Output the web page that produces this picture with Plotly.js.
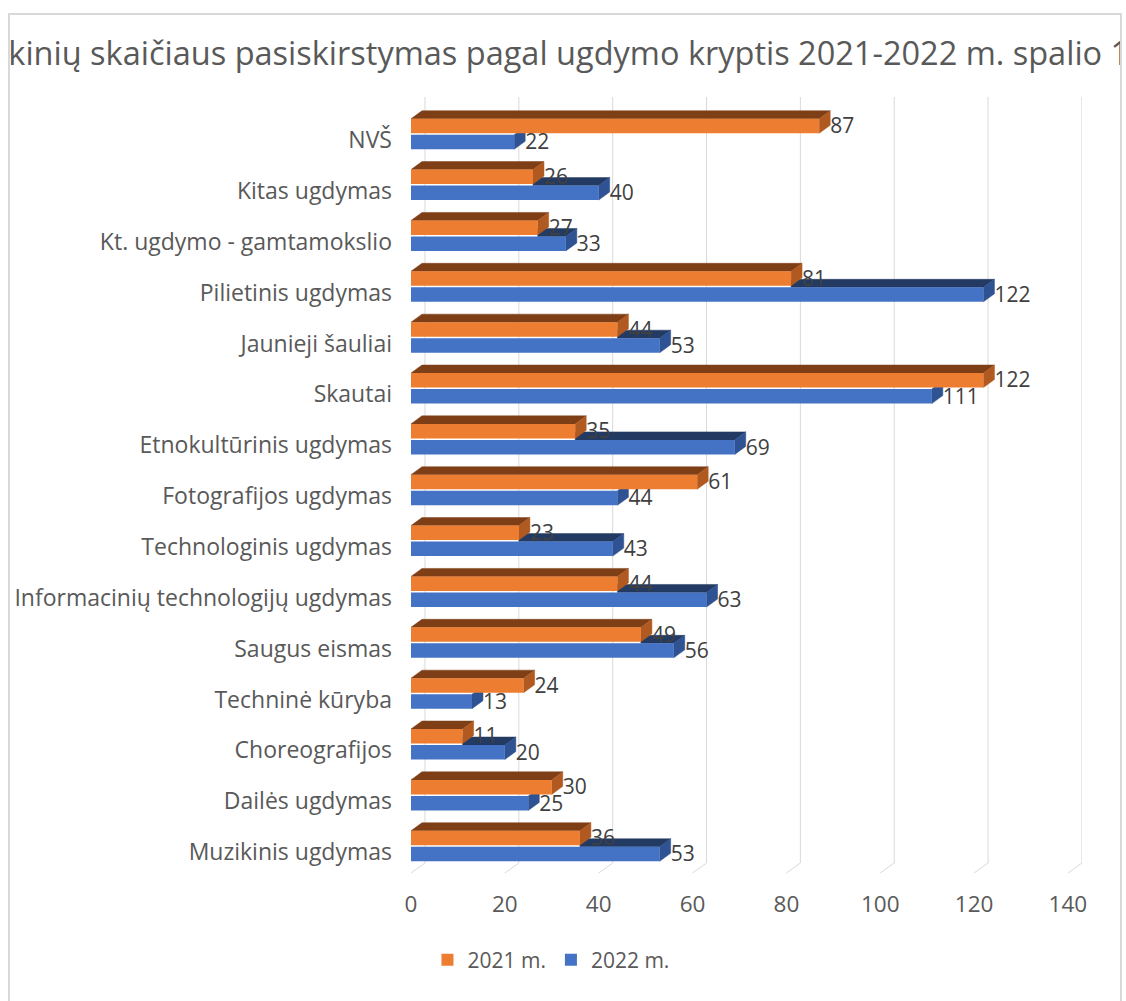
<!DOCTYPE html>
<html><head><meta charset="utf-8">
<script src="https://cdn.plot.ly/plotly-3.0.1.min.js"></script>
<style>
html,body{margin:0;padding:0;background:#fff;width:1126px;height:1001px;overflow:hidden;}
#frame{position:absolute;left:8px;top:13px;width:1110px;height:988px;border:2px solid #d9d9d9;border-bottom:none;overflow:hidden;background:#fff;}
#chart{width:1110px;height:986px;}
</style></head><body>
<div id="frame"><div id="chart"></div></div>
<script>
// ---- data ----
const chartTitle = "Mokinių skaičiaus pasiskirstymas pagal ugdymo kryptis 2021-2022 m. spalio 1 d.";
const categories = ["NVŠ","Kitas ugdymas","Kt. ugdymo - gamtamokslio","Pilietinis ugdymas","Jaunieji šauliai","Skautai","Etnokultūrinis ugdymas","Fotografijos ugdymas","Technologinis ugdymas","Informacinių technologijų ugdymas","Saugus eismas","Techninė kūryba","Choreografijos","Dailės ugdymas","Muzikinis ugdymas"];
const values2021 = [87,26,27,81,44,122,35,61,23,44,49,24,11,30,36];
const values2022 = [22,40,33,122,53,111,69,44,43,63,56,13,20,25,53];
const seriesNames = ["2021 m.","2022 m."];
const xTicks = [0,20,40,60,80,100,120,140];

// ---- style / geometry ----
const DX = 2.34, DY = 0.1575;          // 3D depth in axis units
const GOFF = 2.98;                      // back-wall gridline shift
const O_OFF = -0.30, B_OFF = 0.015, BW = 0.285;
const FONT = "Open Sans, Noto Sans, sans-serif";
const TXT = "#595959";
const col = {
  oFront:"#ED7D31", oTop:"#7E3F17", oSide:"#B05A21",
  bFront:"#4472C4", bTop:"#233A63", bSide:"#2F5292"
};

function faces(vals, off, other, clipBehind){
  const top = {x:[],y:[]}, side = {x:[],y:[]};
  vals.forEach((v,i)=>{
    const a = i + off, b = i + off + BW;
    if(!clipBehind){
      top.x.push(0, v, v+DX, DX, 0, null);
      top.y.push(a, a, a-DY, a-DY, a, null);
    } else if (v > other[i]) {
      const s = other[i];
      top.x.push(s, v, v+DX, s, s, null);
      top.y.push(a, a, a-DY, a-DY, a, null);
    }
    side.x.push(v, v+DX, v+DX, v, v, null);
    side.y.push(a, a-DY, b-DY, b, a, null);
  });
  return {top, side};
}
const fo = faces(values2021, O_OFF, values2022, false);
const fb = faces(values2022, B_OFF, values2021, true);
function poly(p, color){
  return {type:"scatter", mode:"lines", x:p.x, y:p.y, fill:"toself", fillcolor:color,
    line:{width:0.5, color:color}, connectgaps:false, hoverinfo:"skip", showlegend:false, xaxis:"x", yaxis:"y"};
}
const idx = categories.map((_,i)=>i);
const traces = [
  poly(fb.top, col.bTop), poly(fb.side, col.bSide),
  poly(fo.top, col.oTop), poly(fo.side, col.oSide),
  {type:"bar", orientation:"h", name:seriesNames[0], x:values2021, y:idx, width:BW, offset:O_OFF,
   marker:{color:col.oFront, line:{width:0}}, xaxis:"x", yaxis:"y2", hoverinfo:"x"},
  {type:"bar", orientation:"h", name:seriesNames[1], x:values2022, y:idx, width:BW, offset:B_OFF,
   marker:{color:col.bFront, line:{width:0}}, xaxis:"x", yaxis:"y2", hoverinfo:"x"},
  {type:"scatter", mode:"text", x:values2021.map(v=>v+DX), y:idx.map(i=>i-0.12), text:values2021.map(String),
   textposition:"middle right", textfont:{family:FONT, size:21, color:"#404040"}, showlegend:false, hoverinfo:"skip", xaxis:"x", yaxis:"y2"},
  {type:"scatter", mode:"text", x:values2022.map(v=>v+DX), y:idx.map(i=>i+0.2), text:values2022.map(String),
   textposition:"middle right", textfont:{family:FONT, size:21, color:"#404040"}, showlegend:false, hoverinfo:"skip", xaxis:"x", yaxis:"y2"}
];

const yRange = [14.531, -0.7275];
const gridBottom = 0.0129;
const shapes = [];
xTicks.forEach(g=>{
  shapes.push({type:"line", xref:"x", yref:"paper", x0:g+GOFF, x1:g+GOFF, y0:gridBottom, y1:1, layer:"below", line:{color:"#d9d9d9", width:1}});
  shapes.push({type:"line", xref:"x", yref:"paper", x0:g+GOFF, x1:g, y0:gridBottom, y1:0, layer:"below", line:{color:"#d9d9d9", width:1}});
});

const layout = {
  width:1110, height:986,
  margin:{l:401, r:37.9, t:82, b:128, pad:0},
  paper_bgcolor:"#fff", plot_bgcolor:"rgba(0,0,0,0)",
  font:{family:FONT, color:TXT},
  title:{text:chartTitle, font:{family:FONT, size:32.5, color:TXT}, xref:"container", yref:"container", x:0.498, xanchor:"center", y:0.9604, yanchor:"middle", automargin:false},
  barmode:"overlay",
  showlegend:true,
  legend:{orientation:"h", x:0.2086, xanchor:"center", y:-0.1121, yanchor:"middle", font:{family:FONT, size:21, color:TXT}, traceorder:"normal"},
  xaxis:{range:[0,143], tickmode:"array", tickvals:xTicks, ticktext:xTicks.map(String), showgrid:false, zeroline:false, showline:false, ticks:"", ticklabelstandoff:15, tickfont:{family:FONT, size:22.5, color:TXT}, fixedrange:true},
  yaxis:{range:yRange, tickmode:"array", tickvals:idx.map(i=>i+0.12), ticktext:categories, showgrid:false, zeroline:false, showline:false, ticks:"", ticklabelstandoff:18, tickfont:{family:FONT, size:23, color:TXT}, fixedrange:true},
  yaxis2:{range:yRange, overlaying:"y", visible:false, fixedrange:true},
  shapes:shapes
};
Plotly.newPlot("chart", traces, layout, {displayModeBar:false, staticPlot:true});
</script>
</body></html>
